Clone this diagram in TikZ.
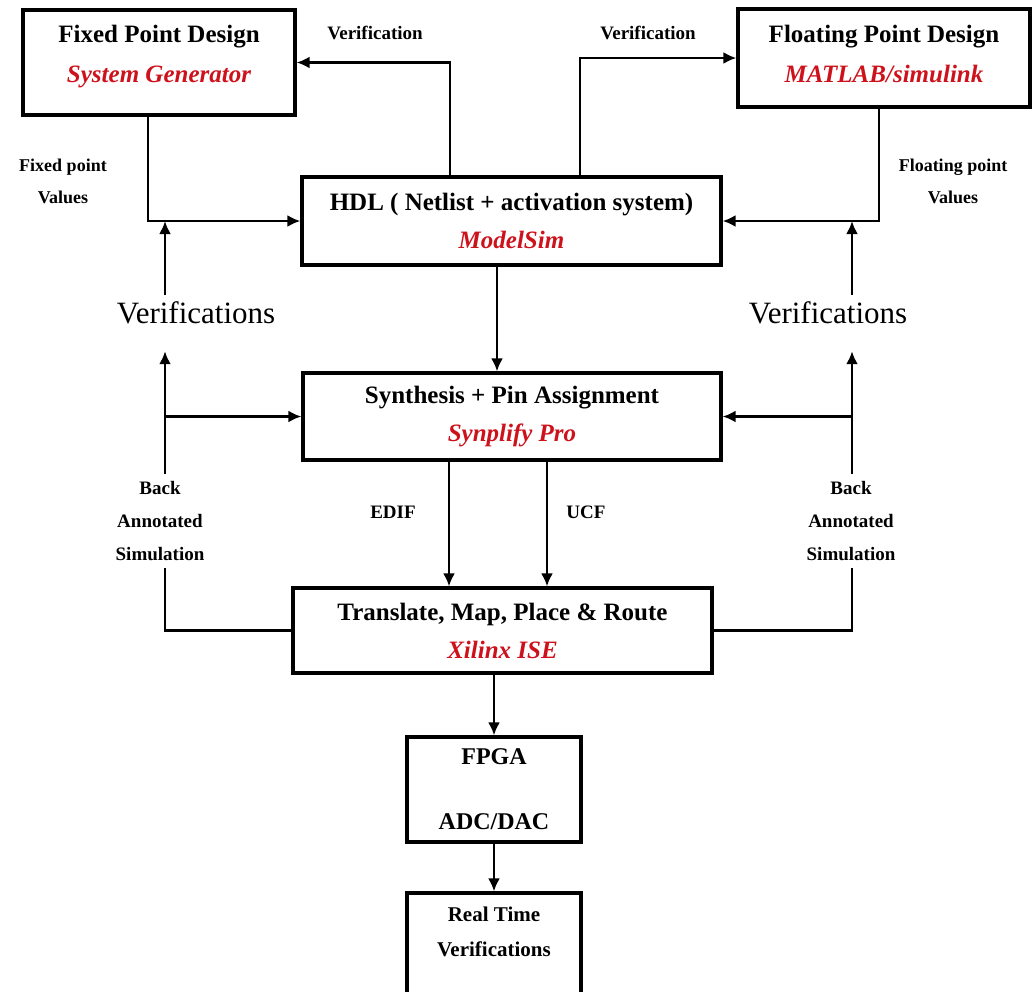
\documentclass[tikz,border=0pt]{standalone}
\usepackage{fontspec}
\setmainfont{Liberation Serif}
\usetikzlibrary{positioning}
\usetikzlibrary{calc}
\usetikzlibrary{arrows.meta}
\definecolor{toolred}{RGB}{205,18,28}
\newcommand{\tool}[1]{{\color{toolred}\itshape #1}}

\begin{document}
\begin{tikzpicture}[x=0.5pt,y=-0.5pt,
arr/.style={draw,line width=1.35pt,-{Latex[length=6.5pt,width=6pt]}},
ln/.style={draw,line width=1.35pt}
]

\tikzstyle{b} = [draw, shape=rectangle, line width=1.6pt, inner sep=0pt, align=center, font=\bfseries\fontsize{12.5}{15}\selectfont]
\tikzstyle{lbl} = [align=center, font=\bfseries\fontsize{9.5}{16.5}\selectfont]
\tikzstyle{verif} = [font=\fontsize{15.5}{18}\selectfont]

\useasboundingbox (0,0) rectangle (1033,991);

\node[b, minimum width=136pt, minimum height=52.5pt, text depth=9pt] (fixed) at (159,62.5) {Fixed Point Design\\[5pt]\tool{System Generator}};
\node[b, minimum width=146pt, minimum height=49pt, text depth=4.5pt] (float) at (884,58) {Floating Point Design\\[5pt]\tool{MATLAB/simulink}};
\node[b, minimum width=209.5pt, minimum height=44pt] (hdl) at (511.5,221) {HDL ( Netlist + activation system)\\[4pt]\tool{ModelSim}};
\node[b, minimum width=209pt, minimum height=43.5pt] (synth) at (512,416.5) {Synthesis + Pin Assignment\\[4pt]\tool{Synplify Pro}};
\node[b, minimum width=209.5pt, minimum height=42.5pt] (trans) at (502.5,630.5) {Translate, Map, Place \& Route\\[4pt]\tool{Xilinx ISE}};
\node[b, minimum width=87pt, minimum height=52.5pt, font=\bfseries\fontsize{12}{15}\selectfont] (fpga) at (494,789.5) {FPGA\\[17.5pt]ADC/DAC};
\node[b, minimum width=87pt, minimum height=52pt, text depth=13pt, font=\bfseries\fontsize{10.5}{17.5}\selectfont] (real) at (494,945) {Real Time\\Verifications};

% side labels
\node[lbl] at (375,33) {Verification};
\node[lbl] at (648,33) {Verification};
\node[lbl, font=\bfseries\fontsize{9}{16}\selectfont] (fpv) at (63,181) {Fixed point\\Values};
\node[lbl, font=\bfseries\fontsize{9}{16}\selectfont] (flv) at (953,181) {Floating point\\Values};
\node[verif] (vl) at (196,313) {Verifications};
\node[verif] (vr) at (828,313) {Verifications};
\node[lbl] (bal) at (160,521) {Back\\Annotated\\Simulation};
\node[lbl] (bar) at (851,521) {Back\\Annotated\\Simulation};
\node[lbl] at (393,512) {EDIF};
\node[lbl] at (586,512) {UCF};

% junctions
\coordinate (lj1) at (165,0 |- hdl.west);
\coordinate (rj1) at (852,0 |- hdl.east);
\coordinate (lj2) at (165,0 |- synth.west);
\coordinate (rj2) at (852,0 |- synth.east);

% top loop
\draw[arr] (450,0 |- hdl.north) |- (fixed.east);
\draw[arr] (580,0 |- hdl.north) |- (float.west);
\draw[arr] (148,0 |- fixed.south) |- (hdl.west);
\draw[arr] (879,0 |- float.south) |- (hdl.east);
\draw[arr] (vl.north -| lj1) -- (lj1);
\draw[arr] (vr.north -| rj1) -- (rj1);

% back annotation
\draw[arr, shorten >=10pt] (bal.north -| lj2) -- (vl.south -| lj2);
\draw[arr, shorten >=10pt] (bar.north -| rj2) -- (vr.south -| rj2);
\draw[arr] (lj2) -- (synth.west);
\draw[arr] (rj2) -- (synth.east);
\draw[ln] (bal.south -| lj2) |- (trans.west);
\draw[ln] (bar.south -| rj2) |- (trans.east);

% main flow
\draw[arr] (497,0 |- hdl.south) -- (497,0 |- synth.north);
\draw[arr] (449,0 |- synth.south) -- (449,0 |- trans.north);
\draw[arr] (547,0 |- synth.south) -- (547,0 |- trans.north);
\draw[arr] (trans.south -| fpga.north) -- (fpga.north);
\draw[arr] (fpga) -- (real);
\end{tikzpicture}
\end{document}
